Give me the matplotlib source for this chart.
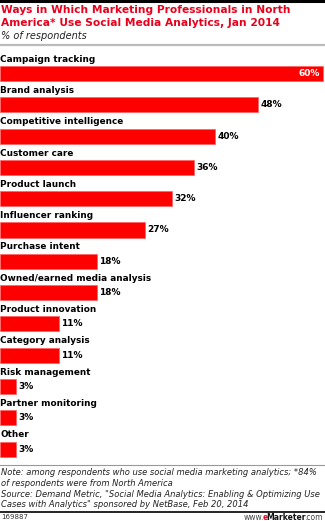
import matplotlib.pyplot as plt

categories = ["Campaign tracking", "Brand analysis", "Competitive intelligence",
              "Customer care", "Product launch", "Influencer ranking",
              "Purchase intent", "Owned/earned media analysis",
              "Product innovation", "Category analysis", "Risk management",
              "Partner monitoring", "Other"]
values = [60, 48, 40, 36, 32, 27, 18, 18, 11, 11, 3, 3, 3]

W, H = 325, 521
fig = plt.figure(figsize=(W / 100, H / 100), dpi=100)
fig.patch.set_facecolor("white")

def fy(px):
    return 1 - px / H

# header rules
fig.add_artist(plt.Line2D([0, 1], [fy(1), fy(1)], color="black", lw=2.2))
fig.add_artist(plt.Line2D([0, 1], [fy(45), fy(45)], color="#bbbbbb", lw=1.6))

fig.text(0.003, fy(10), "Ways in Which Marketing Professionals in North",
         color="#e8001c", fontsize=7.7, fontweight="bold", va="center", ha="left")
fig.text(0.003, fy(23.5), "America* Use Social Media Analytics, Jan 2014",
         color="#e8001c", fontsize=7.7, fontweight="bold", va="center", ha="left")
fig.text(0.003, fy(36), "% of respondents", color="#222222", fontsize=7,
         style="italic", va="center", ha="left")

# bar area
top_px, bot_px = 44, 464
pitch, first = 31.3, 73.5
ax = fig.add_axes([0, fy(bot_px), 1, (bot_px - top_px) / H])
ax.barh(range(len(values)), values, height=0.48, color="#ff0000",
        edgecolor="#ff6060", linewidth=0.5)
ax.set_xlim(0, 60 * W / 323)
ax.set_ylim((bot_px - first) / pitch, -(first - top_px) / pitch)
ax.axis("off")

for i, (cat, v) in enumerate(zip(categories, values)):
    ax.text(0.05, i - 0.46, cat, fontsize=6.4, fontweight="bold",
            va="center", ha="left", color="black")
    if i == 0:
        ax.text(v - 0.5, i, f"{v}%", fontsize=6.5, fontweight="bold",
                va="center", ha="right", color="white")
    else:
        ax.text(v + 0.4, i, f"{v}%", fontsize=6.5, fontweight="bold",
                va="center", ha="left", color="black")

# footer
fig.add_artist(plt.Line2D([0, 1], [fy(465), fy(465)], color="#999999", lw=0.8))
notes = ["Note: among respondents who use social media marketing analytics; *84%",
         "of respondents were from North America",
         "Source: Demand Metric, \"Social Media Analytics: Enabling & Optimizing Use",
         "Cases with Analytics\" sponsored by NetBase, Feb 20, 2014"]
for k, line in enumerate(notes):
    fig.text(0.003, fy(472.5 + k * 10.8), line, fontsize=6.0, style="italic",
             color="#222222", va="center", ha="left")
fig.add_artist(plt.Line2D([0, 1], [fy(512), fy(512)], color="black", lw=1.2))
fig.text(0.003, fy(517), "169887", fontsize=5, color="#333333",
         va="center", ha="left")

# logo text, laid out right to left
renderer = fig.canvas.get_renderer()
pieces = [("www.", "#444444", "normal"), ("e", "#e8001c", "bold"),
          ("Marketer", "#111111", "bold"), (".com", "#444444", "normal")]
x_px = W - 2
for txt, col, wt in reversed(pieces):
    t = fig.text(x_px / W, fy(517), txt, fontsize=5.5, color=col,
                 fontweight=wt, va="center", ha="right")
    x_px -= t.get_window_extent(renderer).width - 1.5
fig.savefig("out.png", dpi=100)
